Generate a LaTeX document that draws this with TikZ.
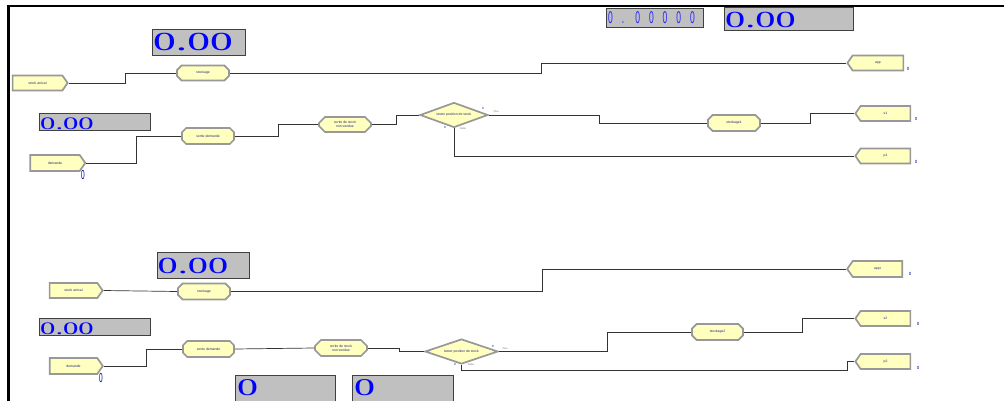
\documentclass[tikz,border=0pt]{standalone}
\usepackage{fontspec}
\setmainfont{Liberation Sans}
\newfontfamily\bigdigits[FakeStretch=1.75]{Liberation Serif}
\newfontfamily\thindigits[FakeStretch=0.5]{Liberation Sans}
\usetikzlibrary{shapes.geometric,shapes.symbols,shapes.misc}

\definecolor{blkfill}{HTML}{FFFFC0}
\definecolor{blkedge}{HTML}{989898}
\definecolor{panel}{HTML}{C0C0C0}
\definecolor{lbl}{HTML}{22227A}
\definecolor{digit}{HTML}{0000FF}

\tikzset{
  blk/.style={fill=blkfill, draw=blkedge, line width=1.7pt, inner sep=0pt,
    font=\fontsize{3.4}{3.8}\selectfont, text=lbl, align=center},
  procbox/.style={blk, chamfered rectangle, chamfered rectangle xsep=3pt,
    chamfered rectangle ysep=3pt},
  createbox/.style={blk, signal, signal to=east, signal pointer angle=110},
  disposebox/.style={blk, signal, signal to=west, signal pointer angle=110},
  decidebox/.style={blk, diamond, aspect=2.7},
  panelbox/.style={fill=panel, draw=black!75, line width=0.8pt, inner sep=0pt,
    anchor=north west},
  bigval/.style={inner sep=0pt, anchor=west, text=digit,
    font=\bigdigits\fontsize{25}{25}\selectfont},
  midval/.style={inner sep=0pt, anchor=west, text=digit,
    font=\bigdigits\fontsize{17.5}{17.5}\selectfont},
  thinval/.style={inner sep=0pt, anchor=west, text=digit!85!white,
    font=\thindigits\fontsize{17}{17}\selectfont},
  conn/.style={draw=black!80, line width=0.7pt},
  count/.style={inner sep=0pt, text=digit!60!black,
    font=\fontsize{4.5}{4.5}\selectfont},
  bigcount/.style={inner sep=0pt, text=digit!60!black,
    font=\thindigits\fontsize{13}{13}\selectfont},
  exitlbl/.style={inner sep=0pt, text=black!55,
    font=\fontsize{2.6}{3}\selectfont},
}

\begin{document}
\begin{tikzpicture}[x=1pt, y=-1pt]
\useasboundingbox (0,0) rectangle (1004,401);
\clip (0,0) rectangle (1004,401);
\fill[white] (0,0) rectangle (1004,401);

% page frame
\draw[line width=2.2pt] (7,6) -- (1004,6);
\draw[line width=3pt] (8.5,5) -- (8.5,402);

% value displays
\node[panelbox, minimum width=93pt, minimum height=26pt] (v1) at (152,29) {};
\node[bigval, font=\bigdigits\fontsize{26}{26}\selectfont] (v1t) at ([xshift=1pt]v1.west) {0.00};

\node[panelbox, minimum width=97pt, minimum height=19pt] (v2) at (606,8) {};
\node[thinval] (v2t) at ([xshift=2pt]v2.west)
  {0\kern9pt.\kern11pt0\kern9pt0\kern9pt0\kern9pt0\kern9pt0};

\node[panelbox, minimum width=129pt, minimum height=23pt] (v3) at (724,7) {};
\node[bigval, font=\bigdigits\fontsize{23}{23}\selectfont] (v3t) at ([xshift=1pt,yshift=-1pt]v3.west) {0.00};

\node[panelbox, minimum width=111pt, minimum height=17pt] (v4) at (39,113) {};
\node[midval] (v4t) at ([xshift=1pt,yshift=-1.5pt]v4.west) {0.00};

\node[panelbox, minimum width=92pt, minimum height=26pt] (v5) at (157,252) {};
\node[bigval, font=\bigdigits\fontsize{23}{23}\selectfont] (v5t) at ([xshift=0.5pt,yshift=-1pt]v5.west) {0.00};

\node[panelbox, minimum width=111pt, minimum height=17pt] (v6) at (39,318) {};
\node[midval] (v6t) at ([xshift=1pt,yshift=-1.5pt]v6.west) {0.00};

\node[panelbox, minimum width=100pt, minimum height=32pt] (v7) at (235,375) {};
\node[bigval, font=\bigdigits\fontsize{24}{24}\selectfont] (v7t) at (237,387.5) {0};

\node[panelbox, minimum width=101pt, minimum height=32pt] (v8) at (352,375) {};
\node[bigval, font=\bigdigits\fontsize{24}{24}\selectfont] (v8t) at (354,387.5) {0};

% ---------- upper model ----------
\node[createbox, minimum width=55pt, minimum height=15pt] (c1) at (37.5,83) {stock arrival};
\node[procbox, minimum width=52pt, minimum height=15pt] (pr1) at (203,73) {stockage};
\node[disposebox, minimum width=56pt, minimum height=15pt] (app) at (878,63) {app};

\node[createbox, minimum width=55pt, minimum height=16pt] (c2) at (55,163) {demande};
\node[procbox, minimum width=52pt, minimum height=16pt] (sd1) at (208,136) {sortie demande};
\node[procbox, minimum width=52pt, minimum height=15pt] (sv1) at (345,124.5) {sortie de stock\\non vendue};
\node[decidebox, minimum width=68pt, minimum height=25pt] (d1) at (454,115) {tester position de stock};
\node[procbox, minimum width=52pt, minimum height=16pt] (pr2) at (734,123) {stockage1};
\node[disposebox, minimum width=55pt, minimum height=15pt] (s1) at (885.5,113.5) {s1};
\node[disposebox, minimum width=55pt, minimum height=15pt] (p1) at (885.5,156) {p1};

\draw[conn] (c1.east) -- ++(57,0) |- (pr1.west);
\draw[conn] (pr1.east) -- ++(311,0) |- (app.west);
\draw[conn] (c2.east) -- ++(50,0) |- (sd1.west);
\draw[conn] (sd1.east) -- ++(43,0) |- (sv1.west);
\draw[conn] (sv1.east) -- ++(24,0) |- (d1.west);
\draw[conn] (d1.east) -- ++(110,0) |- (pr2.west);
\draw[conn] (pr2.east) -- ++(49,0) |- (s1.west);
\draw[conn] (d1.south) |- (p1.west);

\node[bigcount] (n1) at (83,175) {0};
\node[count] (n2) at (908,69) {0};
\node[count] (n3) at (916,119) {0};
\node[count] (n4) at (916,162) {0};
\node[exitlbl] (t1) at (496,111.5) {True};
\node[exitlbl] (f1) at (463,128.5) {False};
\node[count, font=\fontsize{3}{3}\selectfont] (n5) at (483,108.5) {0};
\node[count, font=\fontsize{3}{3}\selectfont] (n6) at (445,127) {0};

% ---------- lower model ----------
\node[createbox, minimum width=53pt, minimum height=15pt] (c3) at (73.5,290.5) {stock arrival};
\node[procbox, minimum width=52pt, minimum height=16pt] (pr3) at (204,291.5) {stockage};
\node[disposebox, minimum width=55pt, minimum height=16pt] (appr) at (877.5,269) {appr};

\node[createbox, minimum width=53pt, minimum height=16pt] (c4) at (73.5,366) {demande};
\node[procbox, minimum width=51pt, minimum height=16pt] (sd3) at (208.5,349) {sortie demande};
\node[procbox, minimum width=52pt, minimum height=16pt] (sv3) at (341,348) {sortie de stock\\non vendue};
\node[decidebox, minimum width=73pt, minimum height=25pt] (d2) at (461.5,351.5) {tester position de stock};
\node[procbox, minimum width=51pt, minimum height=16pt] (pr4) at (717.5,332) {stockage2};
\node[disposebox, minimum width=55pt, minimum height=15pt] (s2) at (885.5,318.5) {s2};
\node[disposebox, minimum width=55pt, minimum height=15pt] (p2) at (885.5,361.5) {p2};

\draw[conn] (c3.east) -- (pr3.west);
\draw[conn] (pr3.east) -- ++(311,0) |- (appr.west);
\draw[conn] (c4.east) -- ++(43,0) |- (sd3.west);
\draw[conn] (sd3.east) -- (sv3.west);
\draw[conn] (sv3.east) -- ++(31,0) |- (d2.west);
\draw[conn] (d2.east) -- ++(108,0) |- (pr4.west);
\draw[conn] (pr4.east) -- ++(58,0) |- (s2.west);
\draw[conn] (d2.south) |- (847,370) |- (p2.west);

\node[bigcount] (n7) at (101,378) {0};
\node[count] (n8) at (910,274) {0};
\node[count] (n9) at (918,324) {0};
\node[count] (n10) at (918,368) {0};
\node[exitlbl] (t2) at (505,348.5) {True};
\node[exitlbl] (f2) at (471,365) {False};
\node[count, font=\fontsize{3}{3}\selectfont] (n11) at (493,346) {0};
\node[count, font=\fontsize{3}{3}\selectfont] (n12) at (455,364) {0};
\end{tikzpicture}
\end{document}
